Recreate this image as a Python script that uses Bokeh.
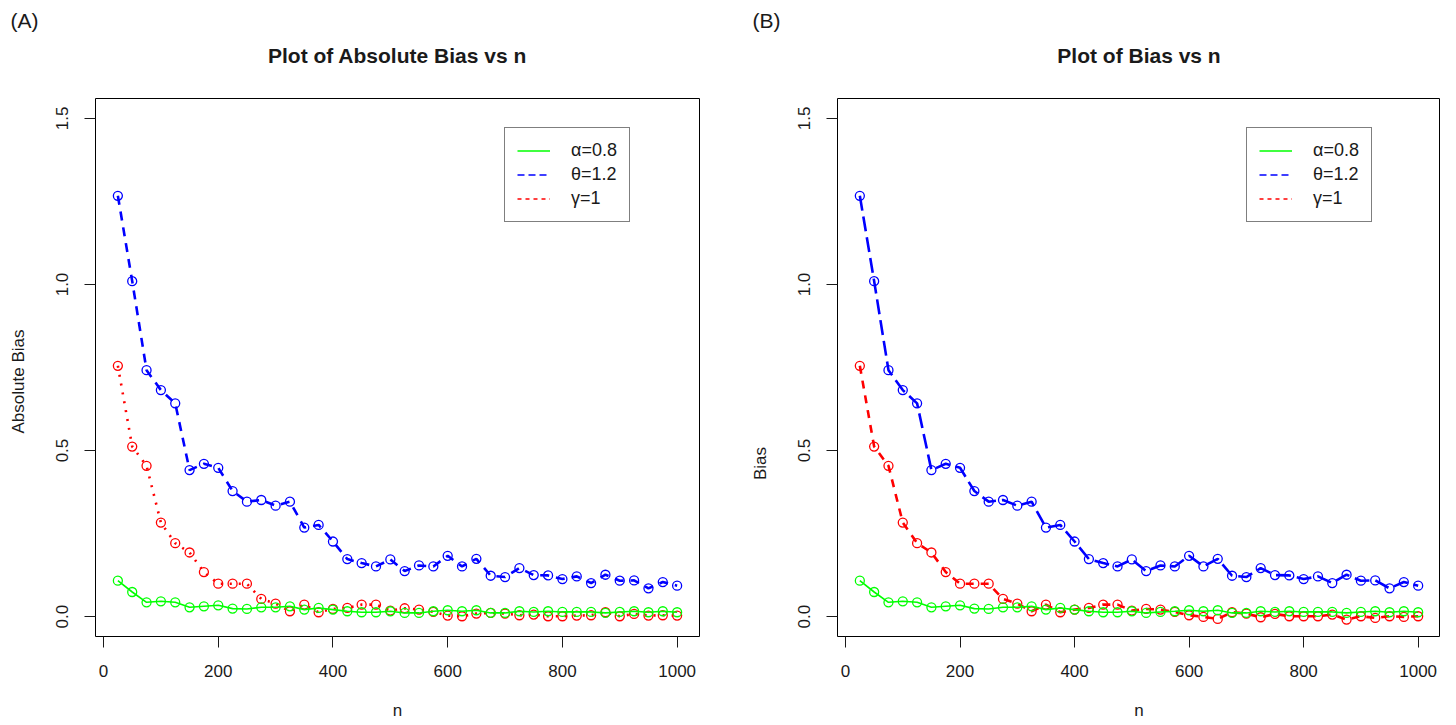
import math
from bokeh.plotting import figure
from bokeh.layouts import row, column
from bokeh.models import FixedTicker, PrintfTickFormatter, Legend, LegendItem, Label, Range1d
from bokeh.embed import file_html
from bokeh.resources import INLINE

# ---------------- data ----------------
n = [25, 50, 75, 100, 125, 150, 175, 200, 225, 250,
     275, 300, 325, 350, 375, 400, 425, 450, 475, 500,
     525, 550, 575, 600, 625, 650, 675, 700, 725, 750,
     775, 800, 825, 850, 875, 900, 925, 950, 975, 1000]

theta_abs = [1.267, 1.010, 0.742, 0.682, 0.642, 0.441, 0.460, 0.448, 0.378, 0.346,
             0.351, 0.334, 0.346, 0.268, 0.276, 0.226, 0.173, 0.161, 0.151, 0.172,
             0.137, 0.154, 0.151, 0.183, 0.151, 0.174, 0.123, 0.119, 0.146, 0.125,
             0.124, 0.113, 0.121, 0.101, 0.126, 0.108, 0.109, 0.085, 0.104, 0.093]
gamma_abs = [0.755, 0.512, 0.454, 0.283, 0.221, 0.193, 0.134, 0.099, 0.099, 0.099,
             0.053, 0.039, 0.016, 0.036, 0.013, 0.023, 0.026, 0.036, 0.036, 0.018,
             0.025, 0.021, 0.014, 0.003, 0.001, 0.009, 0.011, 0.009, 0.004, 0.006,
             0.001, 0.001, 0.003, 0.004, 0.013, 0.001, 0.008, 0.003, 0.004, 0.003]
alpha_abs = [0.108, 0.074, 0.043, 0.046, 0.043, 0.028, 0.031, 0.034, 0.024, 0.023,
             0.028, 0.028, 0.031, 0.021, 0.026, 0.021, 0.016, 0.013, 0.013, 0.016,
             0.011, 0.011, 0.016, 0.019, 0.016, 0.019, 0.011, 0.011, 0.016, 0.014,
             0.016, 0.014, 0.014, 0.014, 0.011, 0.014, 0.016, 0.013, 0.016, 0.013]

theta_bias = [1.267, 1.010, 0.742, 0.682, 0.642, 0.441, 0.460, 0.448, 0.378, 0.346,
              0.351, 0.334, 0.346, 0.268, 0.276, 0.226, 0.173, 0.161, 0.151, 0.172,
              0.137, 0.154, 0.151, 0.183, 0.151, 0.174, 0.123, 0.119, 0.146, 0.125,
              0.124, 0.113, 0.121, 0.101, 0.126, 0.108, 0.109, 0.085, 0.104, 0.093]
gamma_bias = [0.755, 0.512, 0.454, 0.283, 0.221, 0.193, 0.134, 0.099, 0.099, 0.099,
              0.053, 0.039, 0.016, 0.036, 0.013, 0.021, 0.026, 0.036, 0.036, 0.018,
              0.023, 0.021, 0.014, 0.004, -0.001, -0.007, 0.013, 0.009, -0.002, 0.008,
              0.001, 0.001, 0.001, 0.006, -0.009, 0.001, -0.004, 0.001, -0.001, 0.001]
alpha_bias = [0.108, 0.074, 0.043, 0.046, 0.043, 0.028, 0.031, 0.034, 0.024, 0.023,
              0.028, 0.028, 0.031, 0.021, 0.026, 0.021, 0.016, 0.013, 0.013, 0.016,
              0.011, 0.014, 0.016, 0.019, 0.016, 0.019, 0.011, 0.011, 0.016, 0.014,
              0.016, 0.014, 0.014, 0.014, 0.011, 0.014, 0.016, 0.013, 0.016, 0.013]

x_ticks = [0, 200, 400, 600, 800, 1000]
y_ticks = [0.0, 0.5, 1.0, 1.5]
legend_labels = ["\u03b1=0.8", "\u03b8=1.2", "\u03b3=1"]

GREEN = "#00FF00"
BLUE = "#0000FF"
RED = "#FF0000"
FONT = "Liberation Sans"
TXT = "#1a1a1a"
NAN = float("nan")

HEADER_H = 96
MAIN_H = 627
SIDE_W = 40


def blank(width, height):
    """A figure with no axes (used only to hold free text)."""
    f = figure(width=width, height=height, output_backend="svg", toolbar_location=None,
               x_axis_location=None, y_axis_location=None,
               min_border_left=0, min_border_right=0, min_border_top=0, min_border_bottom=0,
               title=None)
    f.grid.visible = False
    f.outline_line_color = None
    f.background_fill_color = "white"
    f.border_fill_color = "white"
    return f


def text_label(p, x, y, text, size, style="normal", angle=0.0):
    p.add_layout(Label(x=x, y=y, x_units="screen", y_units="screen", text=text,
                       text_align="center", text_baseline="middle", angle=angle,
                       text_font=FONT, text_font_size=size, text_font_style=style,
                       text_color=TXT))


def panel(tag, title, ylabel, ylabel_y, alpha, theta, gamma, blue_dash, red_dash,
          border_left, frame_w, border_right):
    main_w = border_left + frame_w + border_right
    total_w = SIDE_W + main_w

    # header: tag "(A)" and the bold main title
    head = blank(total_w, HEADER_H)
    text_label(head, 24 if tag == "(A)" else 17, HEADER_H - 20, tag, "21px")
    text_label(head, SIDE_W + border_left + frame_w / 2, HEADER_H - 55, title, "21px", style="bold")

    # side strip: y axis title (its frame is aligned with the plot frame)
    side = blank(SIDE_W, MAIN_H)
    text_label(side, 18 if tag == "(A)" else 11, ylabel_y, ylabel, "17px", angle=math.pi / 2)

    p = figure(width=main_w, height=MAIN_H, output_backend="svg", toolbar_location=None,
               x_range=Range1d(-14, 1039), y_range=Range1d(-0.06, 1.56),
               min_border_left=border_left, min_border_right=border_right,
               min_border_top=2, min_border_bottom=87, title=None)

    p.grid.visible = False
    p.outline_line_color = "black"
    p.outline_line_width = 1
    p.background_fill_color = "white"
    p.border_fill_color = "white"

    for ax in (p.xaxis[0], p.yaxis[0]):
        ax.axis_line_color = None
        ax.major_tick_line_color = TXT
        ax.major_tick_out = 11
        ax.major_tick_in = 0
        ax.minor_tick_line_color = None
        ax.major_label_text_font = FONT
        ax.major_label_text_font_size = "17px"
        ax.major_label_text_color = TXT
        ax.axis_label_text_font = FONT
        ax.axis_label_text_font_size = "17px"
        ax.axis_label_text_font_style = "normal"
        ax.axis_label_text_color = TXT

    p.xaxis.ticker = FixedTicker(ticks=x_ticks)
    p.yaxis.ticker = FixedTicker(ticks=y_ticks)
    p.yaxis.formatter = PrintfTickFormatter(format="%.1f")
    p.yaxis.major_label_orientation = "vertical"
    p.xaxis.major_label_standoff = 17
    p.yaxis.major_label_standoff = 16
    p.xaxis.axis_label = "n"
    p.xaxis.axis_label_standoff = 21

    # data series
    p.line(n, theta, line_color=BLUE, line_width=2.6, line_dash=blue_dash)
    p.scatter(n, theta, marker="circle", size=9, fill_color=None, line_color=BLUE, line_width=1.3)
    p.line(n, gamma, line_color=RED, line_width=2.6, line_dash=red_dash)
    p.scatter(n, gamma, marker="circle", size=9, fill_color=None, line_color=RED, line_width=1.3)
    p.line(n, alpha, line_color=GREEN, line_width=1.6)
    p.scatter(n, alpha, marker="circle", size=9, fill_color=None, line_color=GREEN, line_width=1.3)

    # legend samples (thin lines, as in the reference legend); NaN data draws nothing
    lg = p.line(x=[NAN], y=[NAN], line_color=GREEN, line_width=1.3)
    lb = p.line(x=[NAN], y=[NAN], line_color=BLUE, line_width=1.3, line_dash="7 4")
    lr = p.line(x=[NAN], y=[NAN], line_color=RED, line_width=1.3, line_dash="4 4")
    legend = Legend(items=[LegendItem(label=legend_labels[0], renderers=[lg]),
                           LegendItem(label=legend_labels[1], renderers=[lb]),
                           LegendItem(label=legend_labels[2], renderers=[lr])],
                    location=(409, 414), margin=0, padding=12, spacing=3,
                    glyph_width=33, glyph_height=19, label_height=19, label_standoff=21,
                    label_text_font=FONT, label_text_font_size="18px",
                    label_text_color=TXT, border_line_color="black",
                    border_line_width=1, background_fill_color="white",
                    background_fill_alpha=1.0)
    p.add_layout(legend, "center")

    return column(head, row(side, p, spacing=0), spacing=0)


pa = panel("(A)", "Plot of Absolute Bias vs n", "Absolute Bias", 255,
           alpha_abs, theta_abs, gamma_abs, "9 7", "2 7",
           border_left=55, frame_w=604, border_right=50)
pb = panel("(B)", "Plot of Bias vs n", "Bias", 173,
           alpha_bias, theta_bias, gamma_bias, "15 6", "8 7",
           border_left=48, frame_w=603, border_right=0)

layout = row(pa, pb, spacing=0)
open("out.html", "w").write(file_html(layout, INLINE))
